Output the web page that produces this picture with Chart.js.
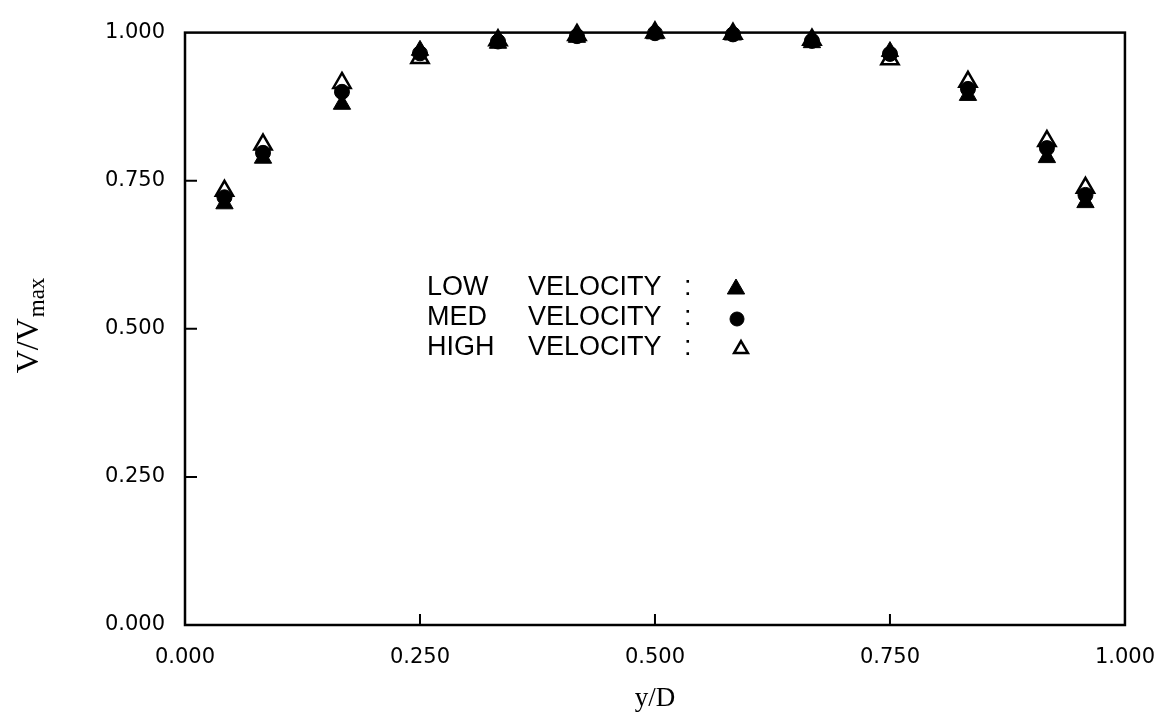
<!DOCTYPE html>
<html>
<head>
<meta charset="utf-8">
<script src="https://cdn.jsdelivr.net/npm/chart.js@4/dist/chart.umd.min.js"></script>
<style>
  html, body { margin: 0; padding: 0; background: #fff; }
</style>
</head>
<body>
<canvas id="myChart" width="1175" height="725"></canvas>
<script>
// y/D stations across the duct
const positions = [0.042, 0.083, 0.167, 0.25, 0.333, 0.417, 0.5, 0.583, 0.667, 0.75, 0.833, 0.917, 0.958];
// V/Vmax
const lowVelocity = [0.711, 0.788, 0.879, 0.970, 0.982, 0.992, 0.998, 0.996, 0.983, 0.968, 0.894, 0.789, 0.713];
const medVelocity = [0.722, 0.797, 0.900, 0.965, 0.985, 0.994, 0.999, 0.997, 0.986, 0.964, 0.905, 0.805, 0.726];
const highVelocity = [0.733, 0.811, 0.915, 0.957, 0.987, 0.996, 1.000, 0.998, 0.988, 0.955, 0.917, 0.817, 0.738];
const seriesNames = ["LOW", "MED", "HIGH"];

const toPoints = (ys) => ys.map((y, i) => ({ x: positions[i], y }));
const tickFont = { family: "DejaVu Sans", size: 21 };

// box, inward ticks, y title with subscript, and the text key in the middle
const framePlugin = {
  id: "frame",
  afterDraw(chart) {
    const { ctx, chartArea: a, scales } = chart;
    ctx.save();
    ctx.strokeStyle = "#000";
    ctx.lineWidth = 2.5;
    ctx.strokeRect(a.left, a.top, a.right - a.left, a.bottom - a.top);

    ctx.lineWidth = 2;
    ctx.beginPath();
    scales.x.ticks.forEach((t) => {
      if (t.value <= 0 || t.value >= 1) return;
      const px = scales.x.getPixelForValue(t.value);
      ctx.moveTo(px, a.bottom);
      ctx.lineTo(px, a.bottom - 11);
    });
    scales.y.ticks.forEach((t) => {
      if (t.value <= 0 || t.value >= 1) return;
      const py = scales.y.getPixelForValue(t.value);
      ctx.moveTo(a.left, py);
      ctx.lineTo(a.left + 12, py);
    });
    ctx.stroke();

    // V/Vmax
    ctx.fillStyle = "#000";
    ctx.translate(38, 326);
    ctx.rotate(-Math.PI / 2);
    ctx.textBaseline = "alphabetic";
    ctx.font = "32px 'Liberation Serif'";
    const main = "V/V";
    const w1 = ctx.measureText(main).width;
    ctx.font = "23px 'Liberation Serif'";
    const w2 = ctx.measureText("max").width;
    const x0 = -(w1 + w2) / 2;
    ctx.font = "32px 'Liberation Serif'";
    ctx.fillText(main, x0, 0);
    ctx.font = "23px 'Liberation Serif'";
    ctx.fillText("max", x0 + w1 + 1, 6);
    ctx.restore();

    // key
    ctx.save();
    ctx.fillStyle = "#000";
    ctx.font = "27px 'Liberation Sans'";
    ctx.textBaseline = "middle";
    const rowY = [288, 318, 348];
    seriesNames.forEach((name, i) => {
      ctx.fillText(name, 427, rowY[i]);
      ctx.fillText("VELOCITY", 528, rowY[i]);
      ctx.fillText(":", 684, rowY[i]);
    });
    const ds = chart.data.datasets;
    const markX = [736, 737, 741];
    const markR = [10, 7, 8];
    ds.forEach((d, i) => {
      ctx.fillStyle = d.backgroundColor;
      ctx.strokeStyle = d.borderColor;
      ctx.lineWidth = d.borderWidth;
      Chart.helpers.drawPoint(ctx, {
        pointStyle: d.pointStyle,
        radius: markR[i],
        rotation: 0,
        borderWidth: d.borderWidth
      }, markX[i], rowY[i] + 1);
    });
    ctx.restore();
  }
};

new Chart(document.getElementById("myChart"), {
  type: "scatter",
  data: {
    datasets: [
      {
        label: "LOW VELOCITY",
        data: toPoints(lowVelocity),
        pointStyle: "triangle",
        pointRadius: 10,
        backgroundColor: "#000",
        borderColor: "#000",
        borderWidth: 1,
        clip: false
      },
      {
        label: "MED VELOCITY",
        data: toPoints(medVelocity),
        pointStyle: "circle",
        pointRadius: 7.5,
        backgroundColor: "#000",
        borderColor: "#000",
        borderWidth: 1,
        clip: false
      },
      {
        label: "HIGH VELOCITY",
        data: toPoints(highVelocity),
        pointStyle: "triangle",
        pointRadius: 10,
        backgroundColor: "rgba(255,255,255,0)",
        borderColor: "#000",
        borderWidth: 2.5,
        clip: false
      }
    ]
  },
  options: {
    responsive: false,
    animation: false,
    layout: { padding: { top: 23, right: 42, left: 0, bottom: 0 } },
    plugins: {
      legend: { display: false },
      tooltip: { enabled: false }
    },
    scales: {
      x: {
        type: "linear",
        min: 0,
        max: 1,
        grid: { display: false, drawTicks: false },
        border: { display: false },
        ticks: {
          stepSize: 0.25,
          padding: 20,
          color: "#000",
          font: tickFont,
          maxRotation: 0,
          autoSkip: false,
          callback: (v) => v.toFixed(3)
        },
        title: {
          display: true,
          text: "y/D",
          color: "#000",
          font: { family: "Liberation Serif", size: 27 },
          padding: { top: 0, bottom: 10 }
        },
        afterFit: (s) => { s.height = 100; }
      },
      y: {
        type: "linear",
        min: 0,
        max: 1,
        grid: { display: false, drawTicks: false },
        border: { display: false },
        ticks: {
          stepSize: 0.25,
          padding: 20,
          color: "#000",
          font: tickFont,
          autoSkip: false,
          callback: (v) => v.toFixed(3)
        },
        afterFit: (s) => { s.width = 185; }
      }
    }
  },
  plugins: [framePlugin]
});
</script>
</body>
</html>
